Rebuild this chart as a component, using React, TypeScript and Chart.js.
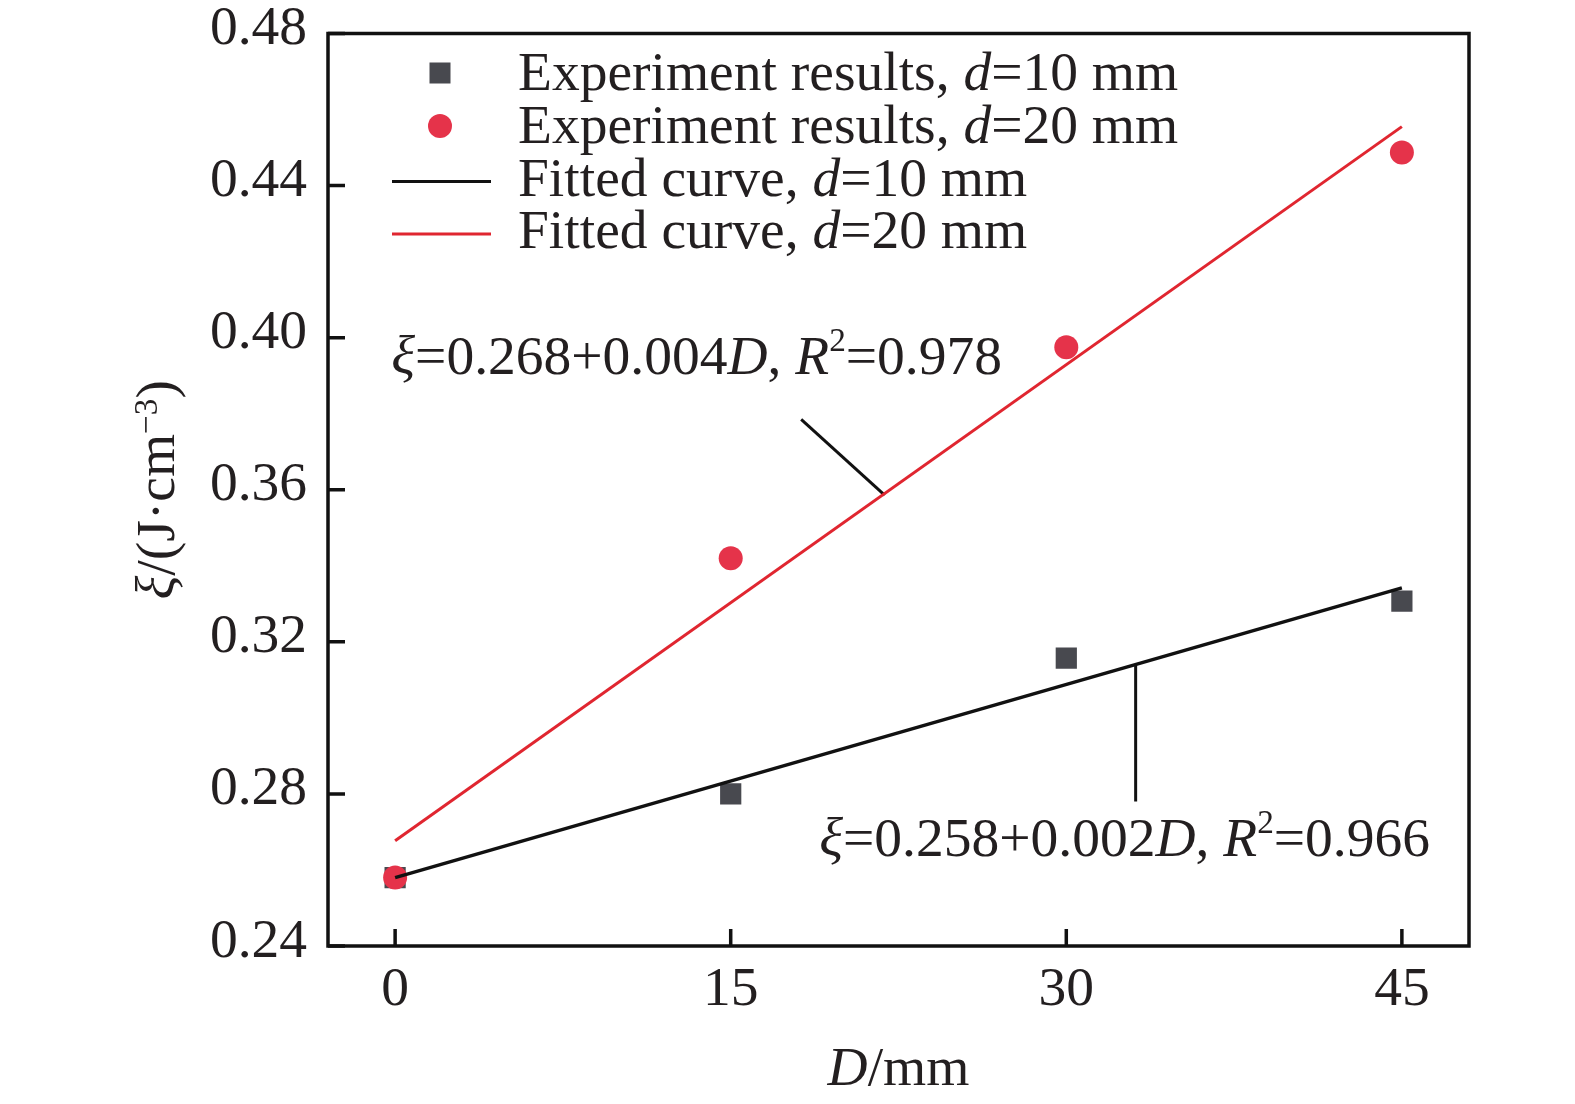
import { useEffect, useRef } from 'react';
import { Chart, registerables } from 'chart.js';

Chart.register(...registerables);

// measured data (D in mm, xi in J/cm^3)
const dValues = [0, 15, 30, 45];
const xiD10 = [0.258, 0.28, 0.3157, 0.3307];
const xiD20 = [0.258, 0.342, 0.3975, 0.4487];

// fitted lines, endpoints
const fitX = [0, 45];
const fitD10 = [0.258, 0.3342];
const fitD20 = [0.2677, 0.4555];

// leader lines from the equations to the curves (data coords)
const leaderRedX = [18.15, 21.88];
const leaderRedY = [0.3785, 0.3586];
const leaderBlackX = [33.1, 33.1];
const leaderBlackY = [0.3139, 0.278];

const xTicks = [0, 15, 30, 45];
const yTicks = [0.24, 0.28, 0.32, 0.36, 0.4, 0.44, 0.48];

type Part = { t: string; i?: boolean; sup?: boolean };

const legendItems: { kind: 'square' | 'circle' | 'black' | 'red'; parts: Part[] }[] = [
  { kind: 'square', parts: [{ t: 'Experiment results, ' }, { t: 'd', i: true }, { t: '=10 mm' }] },
  { kind: 'circle', parts: [{ t: 'Experiment results, ' }, { t: 'd', i: true }, { t: '=20 mm' }] },
  { kind: 'black', parts: [{ t: 'Fitted curve, ' }, { t: 'd', i: true }, { t: '=10 mm' }] },
  { kind: 'red', parts: [{ t: 'Fitted curve, ' }, { t: 'd', i: true }, { t: '=20 mm' }] },
];

const eqRed: Part[] = [
  { t: 'ξ', i: true }, { t: '=0.268+0.004' }, { t: 'D', i: true }, { t: ', ' },
  { t: 'R', i: true }, { t: '2', sup: true }, { t: '=0.978' },
];
const eqBlack: Part[] = [
  { t: 'ξ', i: true }, { t: '=0.258+0.002' }, { t: 'D', i: true }, { t: ', ' },
  { t: 'R', i: true }, { t: '2', sup: true }, { t: '=0.966' },
];
const eqRedPos = { x: -0.17, y: 0.3944 };
const eqBlackPos = { x: 18.96, y: 0.2676 };

const xTitle: Part[] = [{ t: 'D', i: true }, { t: '/mm' }];
const yTitle: Part[] = [{ t: 'ξ', i: true }, { t: '/(J·cm' }, { t: '−3', sup: true }, { t: ')' }];

const FAMILY = '"Liberation Serif", "Times New Roman", serif';
const FS = 55.5;
const TEXT = '#231f20';
const SQUARE = '#48494f';
const RED_PT = '#e5334a';
const RED_LN = '#e02630';
const BLACK_LN = '#111111';

function fontOf(size: number, italic?: boolean) {
  return `${italic ? 'italic ' : ''}${size}px ${FAMILY}`;
}

function richWidth(ctx: CanvasRenderingContext2D, parts: Part[], size: number) {
  let w = 0;
  for (const p of parts) {
    ctx.font = fontOf(p.sup ? size * 0.6 : size, p.i);
    w += ctx.measureText(p.t).width;
  }
  return w;
}

function drawRich(ctx: CanvasRenderingContext2D, parts: Part[], x: number, y: number, size: number) {
  let cx = x;
  for (const p of parts) {
    const s = p.sup ? size * 0.6 : size;
    ctx.font = fontOf(s, p.i);
    ctx.fillText(p.t, cx, p.sup ? y - size * 0.3 : y);
    cx += ctx.measureText(p.t).width;
  }
}

const decorations = {
  id: 'decorations',
  afterDraw(chart: Chart) {
    const { ctx, chartArea: a, scales } = chart;
    const xs = scales.x;
    const ys = scales.y;
    ctx.save();

    // frame
    ctx.strokeStyle = BLACK_LN;
    ctx.lineWidth = 3.5;
    ctx.strokeRect(a.left, a.top, a.right - a.left, a.bottom - a.top);

    // inward ticks
    ctx.beginPath();
    for (const v of xTicks) {
      const px = xs.getPixelForValue(v);
      ctx.moveTo(px, a.bottom);
      ctx.lineTo(px, a.bottom - 17);
    }
    for (const v of yTicks) {
      const py = ys.getPixelForValue(v);
      ctx.moveTo(a.left, py);
      ctx.lineTo(a.left + 17, py);
    }
    ctx.stroke();

    ctx.fillStyle = TEXT;
    ctx.textAlign = 'left';
    ctx.textBaseline = 'middle';

    // equations
    drawRich(ctx, eqRed, xs.getPixelForValue(eqRedPos.x), ys.getPixelForValue(eqRedPos.y), FS);
    drawRich(ctx, eqBlack, xs.getPixelForValue(eqBlackPos.x), ys.getPixelForValue(eqBlackPos.y), FS);

    // legend
    ctx.textBaseline = 'alphabetic';
    const rowBase = [90, 143, 195.5, 248];
    legendItems.forEach((item, i) => {
      const base = rowBase[i];
      const my = base - 17;
      if (item.kind === 'square') {
        ctx.fillStyle = SQUARE;
        ctx.fillRect(440 - 10.5, my - 10.5, 21, 21);
      } else if (item.kind === 'circle') {
        ctx.fillStyle = RED_PT;
        ctx.beginPath();
        ctx.arc(440, my, 12, 0, Math.PI * 2);
        ctx.fill();
      } else {
        ctx.strokeStyle = item.kind === 'black' ? BLACK_LN : RED_LN;
        ctx.lineWidth = 3;
        ctx.beginPath();
        ctx.moveTo(392, my + 3);
        ctx.lineTo(491, my + 3);
        ctx.stroke();
      }
      ctx.fillStyle = TEXT;
      drawRich(ctx, item.parts, 518, base, FS);
    });

    // axis titles
    const xw = richWidth(ctx, xTitle, FS);
    drawRich(ctx, xTitle, (a.left + a.right) / 2 - xw / 2, 1085, FS);

    const yw = richWidth(ctx, yTitle, FS);
    ctx.translate(174, (a.top + a.bottom) / 2);
    ctx.rotate(-Math.PI / 2);
    drawRich(ctx, yTitle, -yw / 2, 0, FS);

    ctx.restore();
  },
};

export default function App() {
  const canvasRef = useRef<HTMLCanvasElement>(null);
  const chartRef = useRef<Chart | null>(null);

  useEffect(() => {
    if (!canvasRef.current) return;
    const ctx = canvasRef.current.getContext('2d');
    if (!ctx) return;

    const lineSet = (xsArr: number[], ysArr: number[], color: string, width: number, order: number) => ({
      data: xsArr.map((x, i) => ({ x, y: ysArr[i] })),
      showLine: true,
      borderColor: color,
      borderWidth: width,
      pointRadius: 0,
      fill: false,
      order,
    });

    chartRef.current = new Chart(ctx, {
      type: 'scatter',
      data: {
        datasets: [
          {
            data: dValues.map((x, i) => ({ x, y: xiD10[i] })),
            pointStyle: 'rect',
            pointRadius: 15,
            backgroundColor: SQUARE,
            pointBorderWidth: 0,
            order: 3,
          },
          {
            data: dValues.map((x, i) => ({ x, y: xiD20[i] })),
            pointStyle: 'circle',
            pointRadius: 12,
            backgroundColor: RED_PT,
            pointBorderWidth: 0,
            order: 2,
          },
          lineSet(fitX, fitD10, BLACK_LN, 3.5, 1),
          lineSet(fitX, fitD20, RED_LN, 3, 0),
          lineSet(leaderRedX, leaderRedY, BLACK_LN, 3, 1),
          lineSet(leaderBlackX, leaderBlackY, BLACK_LN, 3, 1),
        ] as any,
      },
      options: {
        animation: false,
        responsive: true,
        maintainAspectRatio: false,
        events: [],
        layout: { padding: { top: 33.5, right: 106, bottom: 0, left: 0 } },
        plugins: {
          legend: { display: false },
          tooltip: { enabled: false },
        },
        scales: {
          x: {
            type: 'linear',
            min: -3,
            max: 48,
            afterBuildTicks: (scale: any) => {
              scale.ticks = xTicks.map((v) => ({ value: v }));
            },
            afterFit: (scale: any) => {
              scale.height = 158;
              scale.paddingLeft = 0;
              scale.paddingRight = 0;
            },
            grid: { display: false, drawTicks: false },
            border: { display: false },
            ticks: {
              padding: 11,
              color: TEXT,
              font: { family: FAMILY, size: FS },
              maxRotation: 0,
              callback: (v: any) => String(v),
            },
          },
          y: {
            type: 'linear',
            min: 0.24,
            max: 0.48,
            afterBuildTicks: (scale: any) => {
              scale.ticks = yTicks.map((v) => ({ value: v }));
            },
            afterFit: (scale: any) => {
              scale.width = 328;
              scale.paddingTop = 0;
              scale.paddingBottom = 0;
            },
            grid: { display: false, drawTicks: false },
            border: { display: false },
            ticks: {
              padding: 21,
              labelOffset: -4,
              color: TEXT,
              font: { family: FAMILY, size: FS },
              callback: (v: any) => Number(v).toFixed(2),
            },
          },
        },
      },
      plugins: [decorations],
    });

    return () => {
      if (chartRef.current) {
        chartRef.current.destroy();
        chartRef.current = null;
      }
    };
  }, []);

  return (
    <div style={{ position: 'absolute', left: 0, top: 0, width: 1575, height: 1104, background: '#fff' }}>
      <canvas ref={canvasRef} />
    </div>
  );
}
